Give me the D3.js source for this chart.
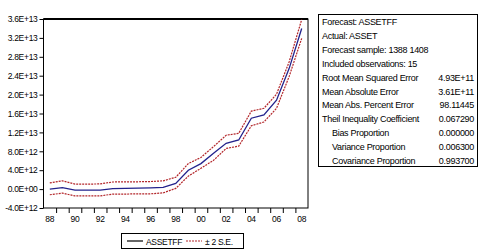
<!DOCTYPE html>
<html><head><meta charset="utf-8">
<script src="https://cdn.jsdelivr.net/npm/d3@7"></script>
<style>
body{margin:0;background:#fff;}
svg text{font-family:"Liberation Sans",Arial,sans-serif;fill:#000;}
</style></head>
<body><svg id="c" width="479" height="251"></svg>
<script>
const years = ["88","89","90","91","92","93","94","95","96","97","98","99","00","01","02","03","04","05","06","07","08"];
const forecast = [0.0,0.3,-0.2,-0.2,-0.2,0.1,0.15,0.2,0.25,0.35,1.2,4.0,5.4,7.6,9.7,10.4,15.0,15.7,18.8,25.5,34.0];
const upper = [1.3,1.75,1.05,1.05,1.1,1.5,1.55,1.55,1.6,1.75,2.5,5.4,6.7,9.0,11.4,11.8,16.5,17.1,20.1,26.9,35.9];
const lower = [-1.2,-0.85,-1.45,-1.45,-1.45,-1.05,-1.05,-1.0,-1.0,-0.8,0.15,2.75,4.4,6.1,8.6,9.1,13.4,14.2,17.1,23.8,31.9];
const yTicks = [-4,0,4,8,12,16,20,24,28,32,36];
const yTickLabels = ["-4.0E+12","0.0E+00","4.0E+12","8.0E+12","1.2E+13","1.6E+13","2.0E+13","2.4E+13","2.8E+13","3.2E+13","3.6E+13"];
const statLabels = ["Forecast: ASSETFF","Actual: ASSET","Forecast sample: 1388 1408","Included observations: 15","Root Mean Squared Error","Mean Absolute Error","Mean Abs. Percent Error","Theil Inequality Coefficient","   Bias Proportion","   Variance Proportion","   Covariance Proportion"];
const statValues = ["","","","","4.93E+11","3.61E+11","98.11445","0.067290","0.000000","0.006300","0.993700"];
const legendItems = ["ASSETFF","± 2 S.E."];

const svg = d3.select("#c");
const L=43.5,R=308,T=19,B=208;
const x = d3.scaleLinear().domain([-0.5, years.length-0.5]).range([L,R]);
const y = d3.scaleLinear().domain([-4,36]).range([B,T]);
const FS = "8.5px";

// frame
svg.append("rect").attr("x",L).attr("y",T).attr("width",R-L).attr("height",B-T)
  .attr("fill","none").attr("stroke","#000").attr("stroke-width",1);
svg.append("line").attr("x1",L).attr("x2",R).attr("y1",T).attr("y2",T).attr("stroke","#000").attr("stroke-width",2);

// y axis
const yAxis = d3.axisLeft(y).tickValues(yTicks).tickSize(4).tickPadding(2)
  .tickFormat((d,i)=>yTickLabels[i]);
const gy = svg.append("g").attr("transform",`translate(${L},0)`).call(yAxis);
gy.select(".domain").remove();
gy.selectAll("text").style("font-size",FS).style("font-family","'Liberation Sans',Arial,sans-serif").attr("letter-spacing","-0.3");

// x axis: ticks at year boundaries, labels at even years
const bounds = d3.range(0, years.length+1).map(i=>i-0.5);
const gx = svg.append("g").attr("transform",`translate(0,${B})`)
  .call(d3.axisBottom(x).tickValues(bounds.slice(1,-1)).tickSize(5).tickFormat(""));
gx.select(".domain").remove();
svg.append("g").selectAll("text").data(years.map((d,i)=>({d,i})).filter(o=>o.i%2===0))
  .join("text").attr("x",o=>x(o.i)).attr("y",B+14).attr("text-anchor","middle")
  .style("font-size",FS).attr("letter-spacing","-0.3").text(o=>o.d);

// lines
const line = d3.line().x((d,i)=>x(i)).y(d=>y(d));
svg.append("path").attr("d",line(upper)).attr("fill","none").attr("stroke","#b3262a").attr("stroke-width",1.2).attr("stroke-dasharray","2,1");
svg.append("path").attr("d",line(lower)).attr("fill","none").attr("stroke","#b3262a").attr("stroke-width",1.2).attr("stroke-dasharray","2,1");
svg.append("path").attr("d",line(forecast)).attr("fill","none").attr("stroke","#22228c").attr("stroke-width",1.3);

// legend
const lg = svg.append("g");
lg.append("rect").attr("x",121.5).attr("y",233.5).attr("width",122).attr("height",15).attr("fill","none").attr("stroke","#000");
lg.append("line").attr("x1",127).attr("x2",143).attr("y1",241).attr("y2",241).attr("stroke","#000").attr("stroke-width",1.2);
lg.append("text").attr("x",146).attr("y",244.5).style("font-size",FS).attr("letter-spacing","-0.3").text(legendItems[0]);
lg.append("line").attr("x1",186).attr("x2",202).attr("y1",241).attr("y2",241).attr("stroke","#b3262a").attr("stroke-width",1.2).attr("stroke-dasharray","2,1");
lg.append("text").attr("x",205).attr("y",244.5).style("font-size",FS).attr("letter-spacing","-0.3").text(legendItems[1]);

// stats box
const sb = svg.append("g");
sb.append("rect").attr("x",318.5).attr("y",14.5).attr("width",159).attr("height",152).attr("fill","none").attr("stroke","#000");
sb.selectAll("text.l").data(statLabels).join("text").attr("class","l")
  .attr("x",d=>d.startsWith("   ")?332:322).attr("y",(d,i)=>25+i*13.9)
  .style("font-size","9px").attr("letter-spacing","-0.3").text(d=>d.trim());
sb.selectAll("text.v").data(statValues).join("text").attr("class","v")
  .attr("x",474).attr("y",(d,i)=>25+i*13.9).attr("text-anchor","end")
  .style("font-size","9px").attr("letter-spacing","-0.3").text(d=>d);
</script></body></html>
